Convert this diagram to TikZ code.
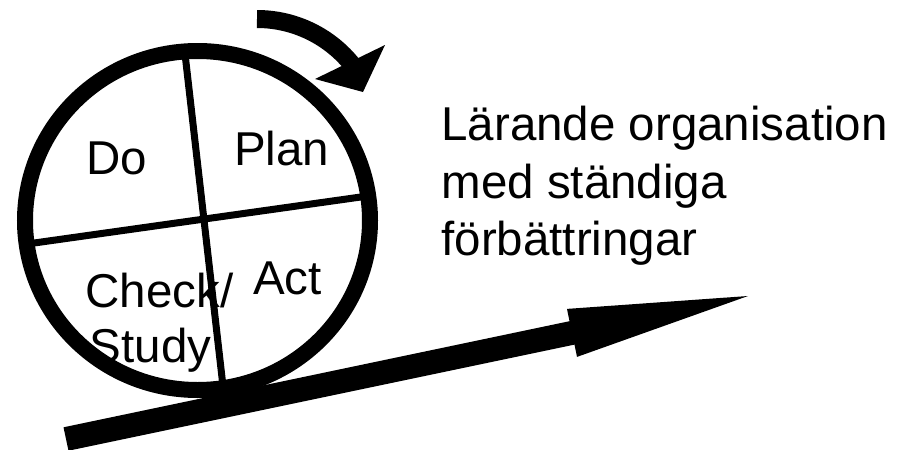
\documentclass[tikz,border=0pt]{standalone}
\usepackage{fontspec}
\setmainfont{Liberation Sans}
\begin{document}
\begin{tikzpicture}[x=1pt,y=-1pt,
  lbl/.style={anchor=base west,inner sep=0pt,outer sep=0pt,font=\fontsize{47.5}{57.5}\selectfont},
  ring/.style={line width=16pt},
  divider/.style={line width=7pt},
  blackfill/.style={fill=black,draw=none}]
\fill[white] (0,0) rectangle (906,450);
\useasboundingbox (0,0) rectangle (906,450);
% wheel
\coordinate (c) at (197.5,220.5);
\coordinate (v1) at (184,45);
\coordinate (v2) at (224,395);
\coordinate (h1) at (20,245);
\coordinate (h2) at (375,195);
\draw[divider] (v1) -- (v2);
\draw[divider] (h1) -- (h2);
\draw[ring] (c) ellipse [x radius=172.5, y radius=169.5];
% curved arrow
\coordinate (as) at (257,19);
\draw[line width=18pt] (as) arc[start angle=-90,end angle=-38,radius=122];
\coordinate (hb1) at (315,79);
\coordinate (hb2) at (385,45);
\coordinate (ht) at (363,92);
\fill[blackfill] (hb1) -- (hb2) -- (ht) -- cycle;
% big arrow
\coordinate (s1) at (63.5,427.3);
\coordinate (s2) at (569.5,321.2);
\coordinate (s3) at (567.0,308.9);
\coordinate (tip) at (748,296);
\coordinate (s4) at (577.0,356.9);
\coordinate (s5) at (574.5,344.6);
\coordinate (s6) at (68.5,450.7);
\fill[blackfill] (s1) -- (s2) -- (s3) -- (tip) -- (s4) -- (s5) -- (s6) -- cycle;
% labels
\node[lbl] (do) at (86.3,174) {Do};
\node[lbl] (plan) at (234.3,165) {Plan};
\node[lbl] (check) at (85.6,307) {Check/};
\node[lbl] (study) at (89.8,362) {Study};
\node[lbl] (act) at (253,294) {Act};
\node[lbl] (t1) at (441.5,140) {Lärande organisation};
\node[lbl] (t2) at (441.5,198) {med ständiga};
\node[lbl] (t3) at (441.5,255) {förbättringar};
\end{tikzpicture}
\end{document}
